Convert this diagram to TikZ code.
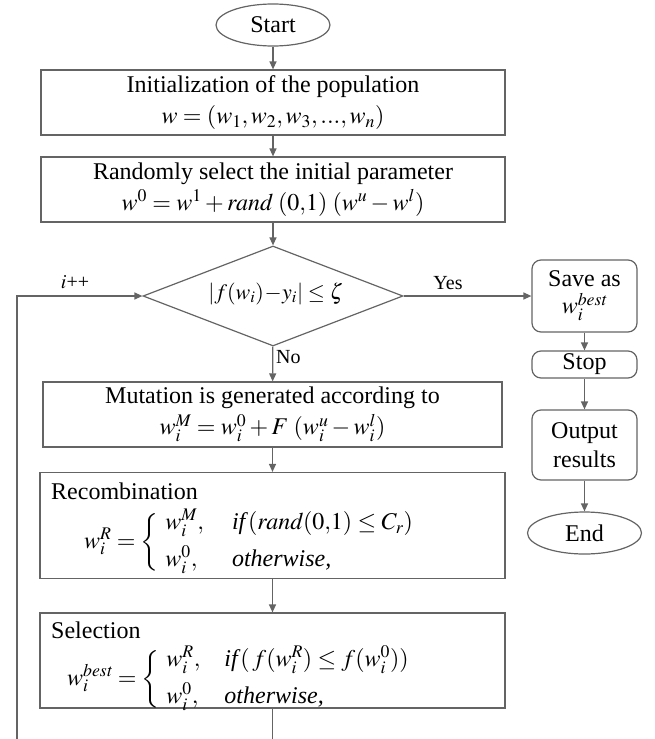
\documentclass[tikz,border=0pt]{standalone}
\usepackage{amsmath}
\usepackage{mathptmx}
\usepackage{fontspec}
\setmainfont{Liberation Serif}
\usetikzlibrary{shapes.geometric,arrows.meta}
\definecolor{lc}{RGB}{100,100,100}
\begin{document}
\begin{tikzpicture}[x=1pt,y=-1pt,
  every node/.style={font=\fontsize{24}{31}\selectfont, inner sep=0pt, text=black},
  box/.style={draw=lc, line width=1.2pt, rectangle, align=center},
  rbox/.style={draw=lc, line width=1.2pt, rectangle, rounded corners=9pt, align=center, minimum width=105pt},
  term/.style={draw=lc, line width=1.2pt, ellipse, minimum width=114pt, minimum height=42pt},
  dec/.style={draw=lc, line width=1.2pt, diamond, minimum width=260pt, minimum height=100pt},
  lbl/.style={font=\fontsize{20}{24}\selectfont},
  conn/.style={draw=lc, line width=1.2pt, -{Triangle[length=8pt,width=7pt]}},
  plain/.style={draw=lc, line width=1.2pt}
]
\useasboundingbox (0,0) rectangle (654,739);

\node[term] (start) at (273,25) {Start};
\node[box, minimum width=464pt, minimum height=65pt] (init) at (273,102.5)
  {Initialization of the population\\ $w = (w_1, w_2, w_3, ..., w_n)$};
\node[box, minimum width=464pt, minimum height=65pt] (rand) at (273,189.5)
  {Randomly select the initial parameter\\ $w^0 = w^{1} + \mathit{rand}\;(0{,}1)\;(w^u - w^l)$};
\node[dec] (dia) at (273,296) {};
\node[font=\fontsize{22}{26}\selectfont] (diat) at (276,294) {$|f(w_i)\!-\!y_i| \le \zeta$};
\node[box, minimum width=459pt, minimum height=65pt] (mut) at (272.5,414.5)
  {Mutation is generated according to\\ $w_i^M = w_i^0 + F\;(w_i^u - w_i^l)$};
\node[box, minimum width=465pt, minimum height=106pt] (rec) at (272.5,525.5) {};
\node[anchor=west] (rect) at (51,491) {Recombination};
\node[anchor=west] (recf) at (84,542)
  {$w_i^R = \left\{\vrule height 32pt depth 20pt width 0pt\right.\,\begin{array}{@{}l@{\hspace{28pt}}l} w_i^M, & \textit{if}\,(\mathit{rand}(0{,}1) \le C_r)\\[6pt] w_i^0, & \textit{otherwise,}\end{array}$};
\node[box, minimum width=465pt, minimum height=95pt] (sel) at (272.5,660.5) {};
\node[anchor=west] (selt) at (51,630) {Selection};
\node[anchor=west] (self) at (67,679)
  {$w_i^{\mathit{best}} = \left\{\vrule height 32pt depth 20pt width 0pt\right.\,\begin{array}{@{}l@{\hspace{24pt}}l} w_i^R, & \textit{if}\,(\,f(w_i^R) \le f(w_i^0))\\[6pt] w_i^0, & \textit{otherwise,}\end{array}$};

\node[rbox, minimum height=72pt] (save) at (584.5,296) {Save as\\[-4pt] $w_i^{\mathit{best}}$};
\node[rbox, minimum height=27pt] (stop) at (584.5,364.5) {Stop};
\node[rbox, minimum height=70pt] (out) at (584.5,445) {Output\\[-2pt] results};
\node[term] (end) at (584.5,533) {End};

\coordinate (selbot) at (272.5,739);
\coordinate (loopbot) at (17,739);

\draw[conn] (start) -- (init);
\draw[conn] (init) -- (rand);
\draw[conn] (rand) -- (dia);
\draw[conn] (dia) -- (save);
\node[lbl] (yes) at (448,283) {Yes};
\draw[conn] (dia) -- (mut);
\node[lbl, anchor=west] (no) at (276,357) {No};
\draw[conn] (mut) -- (rec);
\draw[conn] (rec) -- (sel);
\draw[plain] (sel) -- (selbot);
\draw[conn] (loopbot) |- (dia.west);
\node[lbl] (ipp) at (75,282) {$i$++};
\draw[conn] (save) -- (stop);
\draw[conn] (stop) -- (out);
\draw[conn] (out) -- (end);
\end{tikzpicture}
\end{document}
